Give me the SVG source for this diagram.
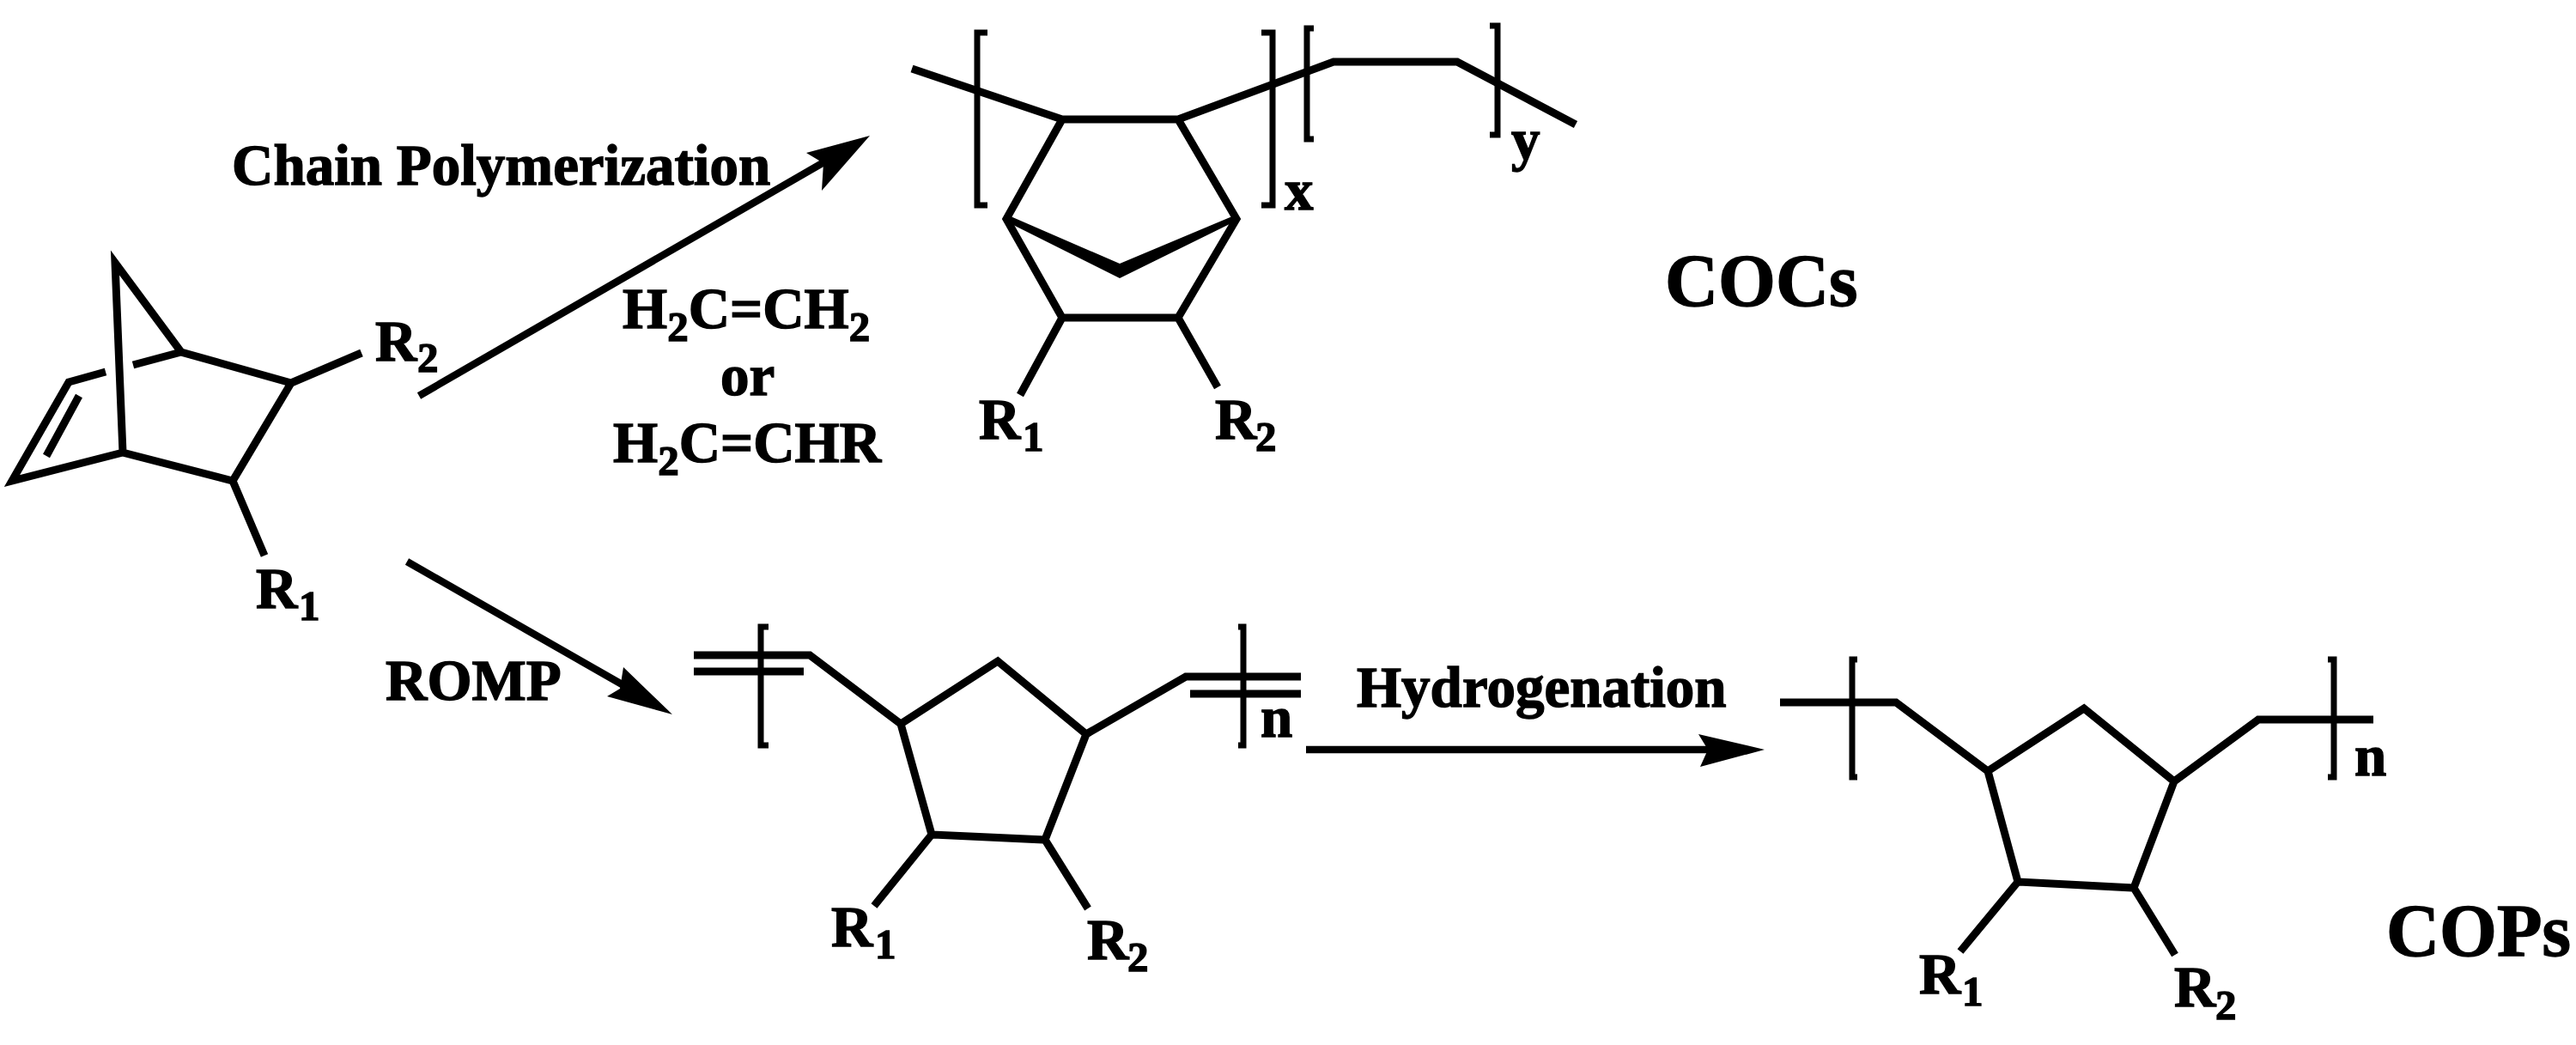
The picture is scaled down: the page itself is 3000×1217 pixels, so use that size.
<svg xmlns="http://www.w3.org/2000/svg" width="3000" height="1217" viewBox="0 0 3000 1217">
<defs>
<style>
text{font-family:"Liberation Serif","Times New Roman",serif;font-weight:bold;fill:#000;stroke:#000;stroke-width:1.4}
.t{font-size:67px}.big{font-size:86px}.sub{font-size:49px}
.b{fill:none;stroke:#000;stroke-width:9;stroke-linejoin:miter;stroke-linecap:butt}
.k{fill:none;stroke:#000;stroke-width:7;stroke-linecap:butt}
.c{fill:none;stroke:#000;stroke-width:8.5}
.h{fill:#000;stroke:none}
</style>
</defs>
<rect width="3000" height="1217" fill="#fff"/>
<g id="connectors">
<path class="c" d="M488 461L975 180"/>
<polygon class="h" points="1013,158 939,178 959,190 957,222"/>
<path class="c" d="M474 654L740 806"/>
<polygon class="h" points="783,832 726,777 722,802 707,811"/>
<path class="c" d="M1521 873L2000 873"/>
<polygon class="h" points="2055,873 1978,855 1989,873 1980,893"/>
</g>
<g id="monomer">
<path class="b" d="M339 446L211 410L134 306L143 527L271 560L339 446ZM421 411L339 446M271 560L308 647M143 527L14 560L80 445L123 433M155 425L211 410M92 461L54 531"/>
<text class="t" x="437" y="420">R</text><text class="sub" x="486" y="433">2</text>
<text class="t" x="298" y="708">R</text><text class="sub" x="348" y="722">1</text>
</g>
<g id="coc">
<path class="b" d="M1062 80L1237 139L1372 139L1553 72L1697 72L1835 145M1237 139L1172 255L1237 370L1372 370L1440 255L1372 139M1237 370L1188 460M1372 370L1418 451"/>
<polygon class="h" points="1168,253 1177,252 1304,307 1435,252 1443,254 1438,258 1304,324 1172,258"/>
<path class="k" d="M1150 38L1138 38L1138 239L1150 239M1469 38L1482 38L1482 239L1469 239M1530 33L1522 33L1522 162L1530 162M1735 30L1744 30L1744 157L1735 157"/>
<text class="t" x="1140" y="511">R</text><text class="sub" x="1191" y="525">1</text>
<text class="t" x="1415" y="511">R</text><text class="sub" x="1462" y="525">2</text>
<text class="t" x="1496" y="244">x</text><text class="t" x="1760" y="186">y</text>
<text class="big" x="1939" y="356">COCs</text>
</g>
<g id="romp-polymer">
<path class="b" d="M808 763L943 763L1049 843L1162 770L1265 855L1381 788L1515 788M808 782L936 782M1386 808L1515 808M1049 843L1085 972L1217 978L1265 855M1085 972L1018 1055M1217 978L1267 1058"/>
<path class="k" d="M895 730L886 730L886 868L895 868M1442 730L1448 730L1448 868L1442 868"/>
<text class="t" x="1468" y="858">n</text>
<text class="t" x="968" y="1102">R</text><text class="sub" x="1019" y="1116">1</text>
<text class="t" x="1266" y="1117">R</text><text class="sub" x="1313" y="1131">2</text>
</g>
<g id="cop">
<path class="b" d="M2073 818L2208 818L2315 898L2427 825L2532 910L2630 838L2764 838M2315 898L2350 1027L2485 1034L2532 910M2350 1027L2283 1108M2485 1034L2533 1112"/>
<path class="k" d="M2163 768L2157 768L2157 905L2163 905M2711 768L2718 768L2718 905L2711 905"/>
<text class="t" x="2742" y="903">n</text>
<text class="t" x="2235" y="1157">R</text><text class="sub" x="2285" y="1171">1</text>
<text class="t" x="2532" y="1172">R</text><text class="sub" x="2580" y="1187">2</text>
<text class="big" x="2779" y="1113">COPs</text>
</g>
<g id="labels">
<text class="t" x="270" y="215">Chain Polymerization</text>
<text class="t" x="725" y="382">H<tspan class="sub" dy="15">2</tspan><tspan dy="-15">C=CH</tspan><tspan class="sub" dy="15">2</tspan></text>
<text class="t" x="839" y="460">or</text>
<text class="t" x="714" y="538">H<tspan class="sub" dy="15">2</tspan><tspan dy="-15">C=CHR</tspan></text>
<text class="t" x="449" y="815">ROMP</text>
<text class="t" x="1580" y="823">Hydrogenation</text>
</g>
</svg>
